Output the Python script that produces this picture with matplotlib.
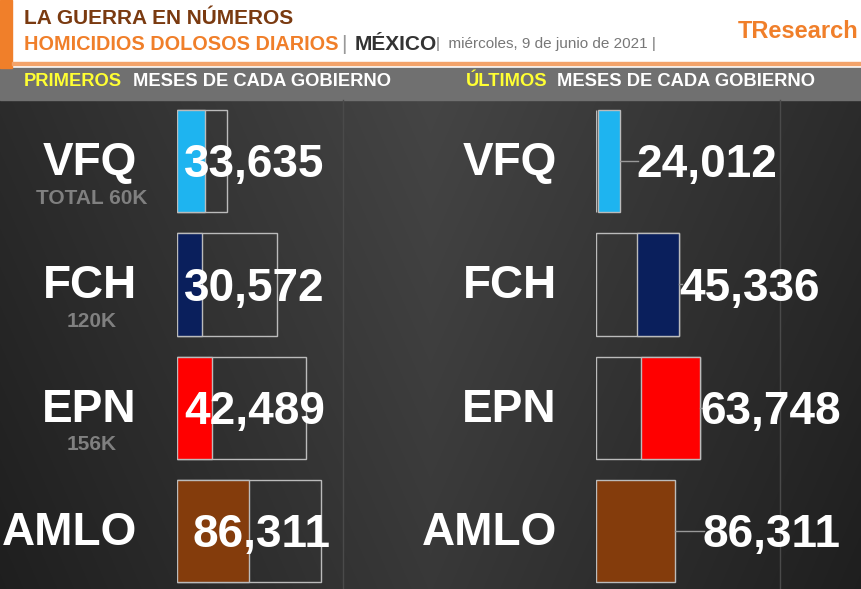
import matplotlib
matplotlib.use("Agg")
import matplotlib.pyplot as plt
import numpy as np
from matplotlib.patches import Rectangle

plt.rcParams["font.family"] = ["Liberation Sans", "DejaVu Sans"]

gov = ["VFQ", "FCH", "EPN", "AMLO"]
sub = ["TOTAL 60K", "120K", "156K", ""]
first = [33635, 30572, 42489, 86311]
total = [60000, 120000, 156000, 173000]
last = [24012, 45336, 63748, 86311]
last_box = [0, 90000, 113000, 0]
colors = ["#1eb4f0", "#0a1f5c", "#ff0000", "#843c0c"]

W, H = 862, 589
fig = plt.figure(figsize=(W/100, H/100), dpi=100)
bg = fig.add_axes([0, 0, 1, 1])
bg.set_xlim(0, W); bg.set_ylim(H, 0); bg.axis("off")
yy, xx = np.mgrid[0:489, 0:W]
g = 0.27 - 0.10*np.abs(xx - 430)/430 - 0.05*(yy/489)
bg.imshow(np.dstack([g, g, g]), extent=(0, W, H, 100), aspect="auto", zorder=0)
bg.add_patch(Rectangle((0, 0), W, 68, color="white", zorder=1))
bg.add_patch(Rectangle((0, 0), 12, 68, color="#f07f2a", zorder=2))
bg.add_patch(Rectangle((12, 62), W, 3, color="#f3a36a", zorder=2))
bg.add_patch(Rectangle((0, 68), W, 32, color="#707070", zorder=1))
for x in (343, 780):
    bg.plot([x, x], [100, H], color="#4a4a4a", lw=1, zorder=1)
bg.text(24, 18, "LA GUERRA EN NÚMEROS", color="#7a3a10", fontsize=15, weight="bold", va="center", zorder=3)
bg.text(24, 44, "HOMICIDIOS DOLOSOS DIARIOS", color="#f07f2a", fontsize=14.3, weight="bold", va="center", zorder=3)
bg.text(341, 44, "|", color="#999999", fontsize=15, va="center", zorder=3)
bg.text(355, 44, "MÉXICO", color="#333333", fontsize=15, weight="bold", va="center", zorder=3)
bg.text(436, 44, "|  miércoles, 9 de junio de 2021 |", color="#777777", fontsize=11, va="center", zorder=3)
bg.text(738, 32, "TResearch", color="#f07f2a", fontsize=17, weight="bold", va="center", zorder=3)
bg.text(24, 82, "PRIMEROS", color="#ffff33", fontsize=13.2, weight="bold", va="center", zorder=3)
bg.text(133, 82, "MESES DE CADA GOBIERNO", color="white", fontsize=13.2, weight="bold", va="center", zorder=3)
bg.text(466, 82, "ÚLTIMOS", color="#ffff33", fontsize=13.2, weight="bold", va="center", zorder=3)
bg.text(557, 82, "MESES DE CADA GOBIERNO", color="white", fontsize=13.2, weight="bold", va="center", zorder=3)

ylim = (3.47, -0.495)
axL = fig.add_axes([177/W, 0, 166/W, 489/H])
axR = fig.add_axes([596/W, 0, 184/W, 489/H])
for ax in (axL, axR):
    ax.set_ylim(*ylim); ax.axis("off"); ax.patch.set_alpha(0)
axL.set_xlim(0, 200000)
axR.set_xlim(0, 200000)
pos = np.arange(4)
h = 0.83
axL.barh(pos, total, height=h, left=0, facecolor="none", edgecolor="#bbbbbb", lw=1)
axL.barh(pos, first, height=h, left=0, color=colors, edgecolor="#bbbbbb", lw=1)
lefts = [b - l if b else 0 for b, l in zip(last_box, last)]
lefts[0] = 2000
axR.barh(pos, last_box, height=h, left=0, facecolor="none", edgecolor="#bbbbbb", lw=1)
axR.barh(pos, last, height=h, left=lefts, color=colors, edgecolor="#bbbbbb", lw=1)

gap = [18000, 1000, 0, 29000]
dy = 0.035
for i in range(4):
    y = 161 + 123.3*i
    bg.text(137, y + 2, gov[i], color="white", fontsize=33, weight="bold", ha="right", va="center", zorder=3)
    if sub[i]:
        bg.text(92, y + 37, sub[i], color="#808080", fontsize=15, weight="bold", ha="center", va="center", zorder=3)
    bg.text(557, y + 2, gov[i], color="white", fontsize=33, weight="bold", ha="right", va="center", zorder=3)
    if i == 3:
        axL.text(total[i] + 12000, i + dy, f"{first[i]:,}", color="white", fontsize=33, weight="bold", ha="right", va="center")
    else:
        axL.text(9000, i + dy, f"{first[i]:,}", color="white", fontsize=33, weight="bold", ha="left", va="center")
    end = lefts[i] + last[i]
    axR.plot([end, end + gap[i] + 2000], [i, i], color="#999999", lw=1)
    axR.text(end + gap[i], i + dy, f"{last[i]:,}", color="white", fontsize=33, weight="bold", ha="left", va="center")
fig.savefig("out.png", dpi=100)
